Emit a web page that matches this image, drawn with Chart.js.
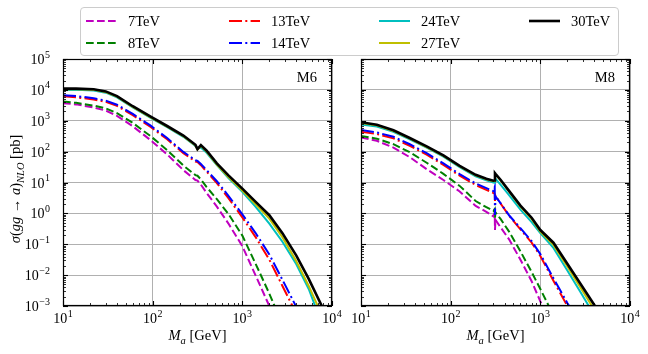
<!DOCTYPE html>
<html>
<head>
<meta charset="utf-8">
<script src="https://cdn.jsdelivr.net/npm/chart.js@4.4.1/dist/chart.umd.min.js"></script>
<style>
  body { margin: 0; background: #fff; }
  #fig { position: relative; width: 648px; height: 354px; overflow: hidden; font-family: "Liberation Serif", "DejaVu Serif", serif; }
  #fig canvas { position: absolute; top: 0; }
  #legend { position: absolute; left: 80px; top: 7px; width: 539px; height: 49px; box-sizing: border-box;
            border: 1px solid #cccccc; border-radius: 4px; background: rgba(255,255,255,0.8); }
  .entry { position: absolute; height: 16px; font-size: 14.5px; line-height: 16px; white-space: nowrap; }
  .entry svg { position: absolute; left: 0; top: 6px; }
  .entry span { position: absolute; left: 42px; top: 0; }
</style>
</head>
<body>
<div id="fig">
  <canvas id="m6" width="350" height="354" style="left:0"></canvas>
  <canvas id="m8" width="308" height="354" style="left:340px"></canvas>
  <div id="legend"></div>
</div>
<script>
// series labels and styles (legend order)
const labels = ["7TeV", "8TeV", "13TeV", "14TeV", "24TeV", "27TeV", "30TeV"];
const colors = ["#bf00bf", "#008000", "#ff0000", "#0000ff", "#00bfbf", "#bfbf00", "#000000"];
const dashes = [[7.7, 3.3], [7.7, 3.3], [13, 3.3, 2, 3.3], [13, 3.3, 2, 3.3], [], [], []];
const widths = [2, 2, 2, 2, 2, 2, 2.6];

// axis ranges / tick decades
const xDecades = [1, 2, 3, 4];
const yDecades = [-3, -2, -1, 0, 1, 2, 3, 4, 5];

// M6 panel: mass grid (GeV) and log10(sigma / pb)
const m6Mass = [10, 14, 22, 30, 40, 60, 95, 145, 220, 300, 316, 345, 400, 520, 700, 1000, 1400, 2000, 2800, 4000, 5500, 8000, 10000];
const m6_7TeV  = [3.57, 3.53, 3.43, 3.33, 3.16, 2.82, 2.37, 1.91, 1.40, 1.08, 1.06, 0.93, 0.66, 0.22, -0.33, -1.06, -2.0, -3.0, -3.9, null, null, null, null];
const m6_8TeV  = [3.62, 3.58, 3.49, 3.40, 3.25, 2.93, 2.50, 2.05, 1.55, 1.24, 1.22, 1.10, 0.85, 0.46, -0.02, -0.72, -1.62, -2.6, -3.6, null, null, null, null];
const m6_13TeV = [3.79, 3.76, 3.69, 3.61, 3.48, 3.18, 2.80, 2.40, 1.95, 1.68, 1.66, 1.56, 1.35, 0.98, 0.49, -0.13, -0.76, -1.50, -2.35, -3.25, -4.1, null, null];
const m6_14TeV = [3.83, 3.80, 3.73, 3.65, 3.52, 3.22, 2.84, 2.44, 1.99, 1.72, 1.70, 1.60, 1.40, 1.04, 0.57, -0.03, -0.63, -1.33, -2.15, -3.03, -3.9, null, null];
const m6_24TeV = [4.00, 4.00, 3.98, 3.91, 3.76, 3.43, 3.09, 2.79, 2.48, 2.18, 2.10, 2.13, 1.96, 1.56, 1.14, 0.70, 0.22, -0.33, -0.92, -1.65, -2.45, -3.7, -4.3];
const m6_27TeV = [4.02, 4.02, 4.00, 3.93, 3.78, 3.45, 3.11, 2.81, 2.50, 2.20, 2.07, 2.19, 2.00, 1.58, 1.18, 0.74, 0.30, -0.17, -0.77, -1.55, -2.35, -3.4, -4.0];
const m6_30TeV = [4.04, 4.04, 4.02, 3.95, 3.80, 3.47, 3.13, 2.83, 2.52, 2.22, 2.08, 2.21, 2.03, 1.62, 1.23, 0.80, 0.38, -0.06, -0.64, -1.37, -2.12, -3.1, -3.7];

// M8 panel
const m8Mass = [10, 15, 23, 35, 54, 83, 126, 190, 250, 300, 310, 312, 316, 360, 450, 600, 800, 1000, 1400, 2000, 2800, 4000, 5500, 10000];
const m8_7TeV  = [2.46, 2.35, 2.13, 1.82, 1.43, 1.08, 0.71, 0.24, 0.05, -0.10, 0.02, -0.54, -0.21, -0.45, -0.85, -1.5, -2.2, -2.85, -3.7, null, null, null, null, null];
const m8_8TeV  = [2.51, 2.42, 2.24, 1.98, 1.64, 1.28, 0.89, 0.40, 0.20, 0.08, 0.14, -0.14, 0.03, -0.18, -0.60, -1.23, -1.90, -2.45, -3.3, -4.2, null, null, null, null];
const m8_13TeV = [2.64, 2.57, 2.43, 2.19, 1.90, 1.57, 1.22, 0.92, 0.76, 0.66, 0.70, 0.40, 0.58, 0.32, -0.08, -0.52, -0.95, -1.38, -2.18, -3.0, -3.8, null, null, null];
const m8_14TeV = [2.70, 2.62, 2.48, 2.24, 1.95, 1.62, 1.27, 0.97, 0.82, 0.72, 0.85, -0.05, 0.55, 0.33, -0.07, -0.48, -0.90, -1.32, -2.10, -2.90, -3.6, null, null, null];
const m8_24TeV = [2.88, 2.81, 2.64, 2.40, 2.13, 1.84, 1.50, 1.20, 1.07, 1.00, 0.99, 1.12, 1.12, 0.93, 0.58, 0.12, -0.28, -0.64, -1.12, -1.85, -2.55, -3.3, -4.0, null];
const m8_27TeV = [2.93, 2.85, 2.67, 2.42, 2.15, 1.86, 1.52, 1.23, 1.10, 1.04, 1.05, 1.28, 1.26, 1.07, 0.70, 0.22, -0.18, -0.59, -1.02, -1.72, -2.4, -3.12, -3.8, null];
const m8_30TeV = [2.95, 2.87, 2.69, 2.44, 2.17, 1.88, 1.54, 1.25, 1.12, 1.06, 1.07, 1.30, 1.28, 1.09, 0.72, 0.25, -0.14, -0.54, -0.95, -1.63, -2.28, -2.97, -3.6, null];

const SERIF = '"Liberation Serif", "DejaVu Serif", serif';

// legend (html, two rows, column-major)
const legendBox = document.getElementById("legend");
const colLeft = [5, 148, 298, 448];
const rowTop = [5, 27];
labels.forEach((lab, i) => {
    const el = document.createElement("div");
    el.className = "entry";
    el.style.left = colLeft[Math.floor(i / 2)] + "px";
    el.style.top = rowTop[i % 2] + "px";
    const dash = dashes[i].length ? ' stroke-dasharray="' + dashes[i].join(" ") + '"' : "";
    el.innerHTML = '<svg width="31" height="4"><line x1="0" y1="2" x2="31" y2="2" stroke="' + colors[i] +
        '" stroke-width="' + widths[i] + '"' + dash + '/></svg><span>' + lab + '</span>';
    legendBox.appendChild(el);
});

function powLabel(ctx, e, x, y, align) {
    const base = "10";
    const sup = e < 0 ? "\u2212" + (-e) : String(e);
    ctx.font = "14px " + SERIF;
    const wb = ctx.measureText(base).width;
    ctx.font = "10px " + SERIF;
    const ws = ctx.measureText(sup).width;
    const w = wb + ws + 0.5;
    const x0 = align === "center" ? x - w / 2 : x - w;
    ctx.textAlign = "left";
    ctx.textBaseline = "alphabetic";
    ctx.font = "14px " + SERIF;
    ctx.fillText(base, x0, y);
    ctx.font = "10px " + SERIF;
    ctx.fillText(sup, x0 + wb + 0.5, y - 6.5);
}

// segments: [text, style]  style: "r" roman, "i" italic, "is" italic subscript
function richText(ctx, segs, x, y) {
    let total = 0;
    const parts = segs.map(([t, st]) => {
        const sub = st.indexOf("s") >= 0;
        const font = (st.indexOf("i") >= 0 ? "italic " : "") + (sub ? 10.5 : 14.5) + "px " + SERIF;
        ctx.font = font;
        const w = ctx.measureText(t).width;
        total += w;
        return { t, font, w, dy: sub ? 3.5 : 0 };
    });
    let cx = x - total / 2;
    ctx.textAlign = "left";
    ctx.textBaseline = "alphabetic";
    parts.forEach(p => {
        ctx.font = p.font;
        ctx.fillText(p.t, cx, y + p.dy);
        cx += p.w;
    });
}

function makePanel(id, mass, logs, padLeft, padRight, tag, yLabels) {
    const datasets = logs.map((arr, i) => ({
        label: labels[i],
        data: mass.map((m, j) => ({ x: m, y: arr[j] === null ? null : Math.pow(10, arr[j]) }))
                  .filter(p => p.y !== null),
        borderColor: colors[i],
        borderWidth: widths[i],
        borderDash: dashes[i],
        pointRadius: 0,
        fill: false,
        tension: 0,
        clip: 0,
        order: logs.length - i
    }));

    const decorations = {
        id: "decorations",
        afterDraw(chart) {
            const ctx = chart.ctx;
            const a = chart.chartArea;
            const xs = chart.scales.x, ys = chart.scales.y;
            ctx.save();
            ctx.strokeStyle = "#000";
            ctx.fillStyle = "#000";
            // inward ticks on all four sides
            const tick = (px, py, dx, dy, len, lw) => {
                ctx.lineWidth = lw;
                ctx.beginPath();
                ctx.moveTo(px, py);
                ctx.lineTo(px + dx * len, py + dy * len);
                ctx.stroke();
            };
            for (let e = 1; e <= 4; e++) {
                for (let k = 1; k <= 9; k++) {
                    const v = k * Math.pow(10, e);
                    if (v > 1e4 || (e === 4 && k > 1)) continue;
                    const px = Math.round(xs.getPixelForValue(v)) + 0.5;
                    const len = k === 1 ? 5 : 3;
                    const lw = k === 1 ? 1.1 : 0.8;
                    tick(px, a.bottom, 0, -1, len, lw);
                    tick(px, a.top, 0, 1, len, lw);
                }
            }
            for (let e = -3; e <= 5; e++) {
                for (let k = 1; k <= 9; k++) {
                    if (e === 5 && k > 1) continue;
                    const v = k * Math.pow(10, e);
                    const py = Math.round(ys.getPixelForValue(v)) + 0.5;
                    const len = k === 1 ? 5 : 3;
                    const lw = k === 1 ? 1.1 : 0.8;
                    tick(a.left, py, 1, 0, len, lw);
                    tick(a.right, py, -1, 0, len, lw);
                }
            }
            // frame
            ctx.lineWidth = 1.2;
            ctx.strokeRect(a.left + 0.5, a.top + 0.5, a.right - a.left - 1, a.bottom - a.top - 1);

            // tick labels
            xDecades.forEach(e => powLabel(ctx, e, xs.getPixelForValue(Math.pow(10, e)), 323, "center"));
            if (yLabels) {
                yDecades.forEach(e => powLabel(ctx, e, 50, ys.getPixelForValue(Math.pow(10, e)) + 5, "right"));
                ctx.save();
                ctx.translate(20, 189);
                ctx.rotate(-Math.PI / 2);
                richText(ctx, [["\u03c3", "i"], ["(", "r"], ["gg", "i"], [" \u2192 ", "r"], ["a", "i"], [")", "r"],
                               ["NLO", "is"], [" [pb]", "r"]], 0, 0);
                ctx.restore();
            }
            richText(ctx, [["M", "i"], ["a", "is"], [" [GeV]", "r"]], (a.left + a.right) / 2, 340);

            // panel tag
            ctx.font = "14.5px " + SERIF;
            ctx.textAlign = "right";
            ctx.textBaseline = "alphabetic";
            ctx.fillText(tag, a.right - 15, 82);
            ctx.restore();
        }
    };

    return new Chart(document.getElementById(id), {
        type: "line",
        data: { datasets: datasets },
        options: {
            responsive: false,
            animation: false,
            devicePixelRatio: 1,
            layout: { padding: { left: padLeft, right: padRight, top: 59, bottom: 48 } },
            plugins: { legend: { display: false }, tooltip: { enabled: false } },
            scales: {
                x: {
                    type: "logarithmic", min: 10, max: 1e4,
                    afterBuildTicks: s => { s.ticks = xDecades.map(e => ({ value: Math.pow(10, e) })); },
                    afterFit: s => { s.height = 0; },
                    ticks: { display: false },
                    grid: { color: "#b0b0b0", lineWidth: 1, drawTicks: false },
                    border: { display: false }
                },
                y: {
                    type: "logarithmic", min: 1e-3, max: 1e5,
                    afterBuildTicks: s => { s.ticks = yDecades.map(e => ({ value: Math.pow(10, e) })); },
                    afterFit: s => { s.width = 0; },
                    ticks: { display: false },
                    grid: { color: "#b0b0b0", lineWidth: 1, drawTicks: false },
                    border: { display: false }
                }
            }
        },
        plugins: [decorations]
    });
}

makePanel("m6", m6Mass, [m6_7TeV, m6_8TeV, m6_13TeV, m6_14TeV, m6_24TeV, m6_27TeV, m6_30TeV], 63, 18, "M6", true);
makePanel("m8", m8Mass, [m8_7TeV, m8_8TeV, m8_13TeV, m8_14TeV, m8_24TeV, m8_27TeV, m8_30TeV], 21, 18, "M8", false);
</script>
</body>
</html>
